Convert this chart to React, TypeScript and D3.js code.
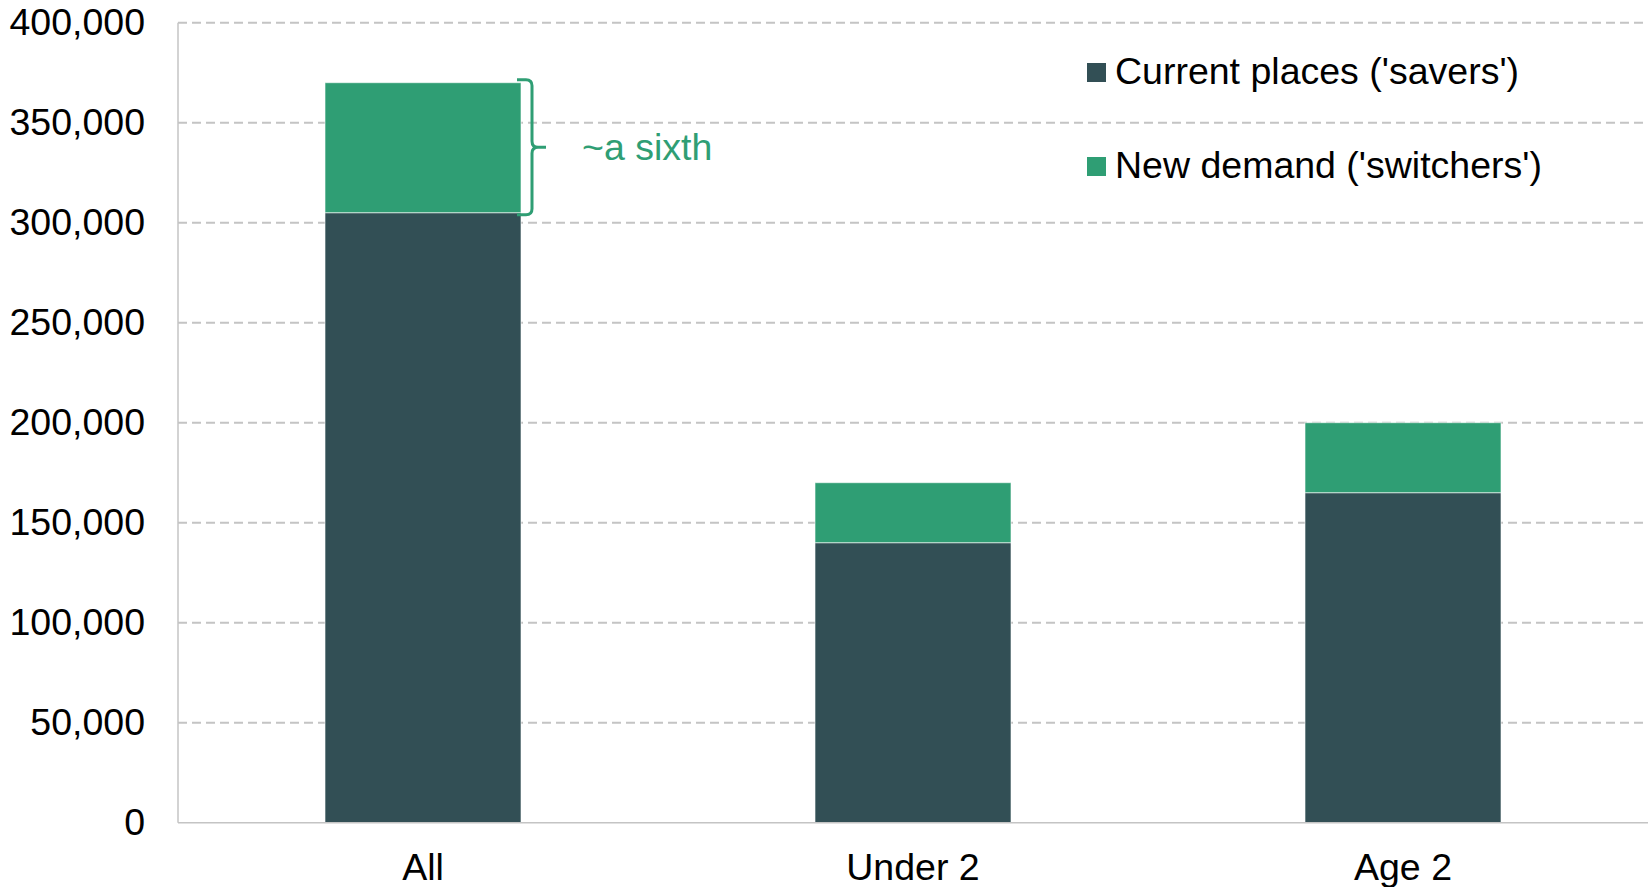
import React, { useEffect, useRef } from "react";
import * as d3 from "d3";

const categories = ["All", "Under 2", "Age 2"];
const savers = [305000, 140000, 165000];
const switchers = [65000, 30000, 35000];
const seriesNames = ["Current places ('savers')", "New demand ('switchers')"];
const yTicks = [0, 50000, 100000, 150000, 200000, 250000, 300000, 350000, 400000];
const bracketLabel = "~a sixth";

const DARK = "#324f55";
const GREEN = "#2f9e74";
const GRID = "#c4c4c4";
const FONT = "'Liberation Sans', Arial, sans-serif";
const FS = 37.5;

const App: React.FC = () => {
  const svgRef = useRef<SVGSVGElement | null>(null);

  useEffect(() => {
    const width = 1648;
    const height = 887;
    const margin = { top: 22.7, right: 0, bottom: 64.3, left: 178 };

    d3.select(svgRef.current).selectAll("*").remove();

    const svg = d3
      .select(svgRef.current)
      .attr("width", width)
      .attr("height", height);

    const xScale = d3
      .scaleBand<string>()
      .domain(categories)
      .range([margin.left, width - margin.right])
      .paddingInner(0.6)
      .paddingOuter(0.3);

    const yScale = d3
      .scaleLinear()
      .domain([0, 400000])
      .range([height - margin.bottom, margin.top]);

    // gridlines
    svg
      .append("g")
      .selectAll("line")
      .data(yTicks.filter((t) => t > 0))
      .join("line")
      .attr("x1", margin.left)
      .attr("x2", width - margin.right)
      .attr("y1", (d) => yScale(d))
      .attr("y2", (d) => yScale(d))
      .attr("stroke", GRID)
      .attr("stroke-width", 2)
      .attr("stroke-dasharray", "9,5");

    // y axis labels
    const yAxis = svg
      .append("g")
      .attr("transform", `translate(${margin.left},0)`)
      .call(
        d3
          .axisLeft(yScale)
          .tickValues(yTicks)
          .tickSize(0)
          .tickPadding(33)
          .tickFormat((d: any) => d3.format(",")(d))
      );
    yAxis.select(".domain").remove();
    yAxis
      .selectAll("text")
      .attr("font-family", FONT)
      .attr("font-size", FS)
      .attr("fill", "#000");

    // stacked bars
    const stacked = categories.map((c, i) => ({
      cat: c,
      parts: [
        { y0: 0, y1: savers[i], color: DARK },
        { y0: savers[i], y1: savers[i] + switchers[i], color: GREEN },
      ],
    }));

    const barG = svg.append("g");
    stacked.forEach((s) => {
      barG
        .selectAll(null)
        .data(s.parts)
        .join("rect")
        .attr("x", xScale(s.cat) as number)
        .attr("width", xScale.bandwidth())
        .attr("y", (d) => yScale(d.y1))
        .attr("height", (d) => yScale(d.y0) - yScale(d.y1))
        .attr("fill", (d) => d.color)
        .attr("stroke", "#ffffff")
        .attr("stroke-opacity", 0.6)
        .attr("stroke-width", 1);
    });

    // axes lines
    svg
      .append("line")
      .attr("x1", margin.left)
      .attr("x2", margin.left)
      .attr("y1", yScale(400000))
      .attr("y2", yScale(0))
      .attr("stroke", GRID)
      .attr("stroke-width", 1.5);
    svg
      .append("line")
      .attr("x1", margin.left)
      .attr("x2", width - margin.right)
      .attr("y1", yScale(0))
      .attr("y2", yScale(0))
      .attr("stroke", GRID)
      .attr("stroke-width", 1.5);

    // x labels
    svg
      .append("g")
      .selectAll("text")
      .data(categories)
      .join("text")
      .attr("x", (d) => (xScale(d) as number) + xScale.bandwidth() / 2)
      .attr("y", 880)
      .attr("text-anchor", "middle")
      .attr("font-family", FONT)
      .attr("font-size", FS)
      .attr("fill", "#000")
      .text((d) => d);

    // bracket on first bar's switchers
    const bx = (xScale(categories[0]) as number) + xScale.bandwidth();
    const top = yScale(savers[0] + switchers[0]) - 3;
    const bot = yScale(savers[0]) + 2;
    const mid = (top + bot) / 2;
    const r = 6;
    const path = d3.path();
    path.moveTo(bx - 4, top);
    path.lineTo(bx + 11 - r, top);
    path.quadraticCurveTo(bx + 11, top, bx + 11, top + r);
    path.lineTo(bx + 11, mid - r);
    path.quadraticCurveTo(bx + 11, mid, bx + 11 + r, mid);
    path.lineTo(bx + 25, mid);
    path.moveTo(bx + 11 + r, mid);
    path.quadraticCurveTo(bx + 11, mid, bx + 11, mid + r);
    path.lineTo(bx + 11, bot - r);
    path.quadraticCurveTo(bx + 11, bot, bx + 11 - r, bot);
    path.lineTo(bx - 4, bot);
    svg
      .append("path")
      .attr("d", path.toString())
      .attr("fill", "none")
      .attr("stroke", GREEN)
      .attr("stroke-width", 3);

    svg
      .append("text")
      .attr("x", bx + 61)
      .attr("y", mid + 13)
      .attr("font-family", FONT)
      .attr("font-size", FS)
      .attr("fill", GREEN)
      .text(bracketLabel);

    // legend
    const legend = svg
      .append("g")
      .attr("transform", "translate(1087,63)");
    legend
      .selectAll("g")
      .data(seriesNames)
      .join("g")
      .attr("transform", (_d, i) => `translate(0,${i * 94})`)
      .each(function (d, i) {
        const g = d3.select(this);
        g.append("rect")
          .attr("width", 19)
          .attr("height", 19)
          .attr("fill", i === 0 ? DARK : GREEN);
        g.append("text")
          .attr("x", 28)
          .attr("y", 21)
          .attr("font-family", FONT)
          .attr("font-size", FS)
          .attr("fill", "#000")
          .text(d);
      });
  }, []);

  return (
    <svg
      ref={svgRef}
      style={{ position: "absolute", left: 0, top: 0, background: "#fff" }}
    ></svg>
  );
};

export default App;
